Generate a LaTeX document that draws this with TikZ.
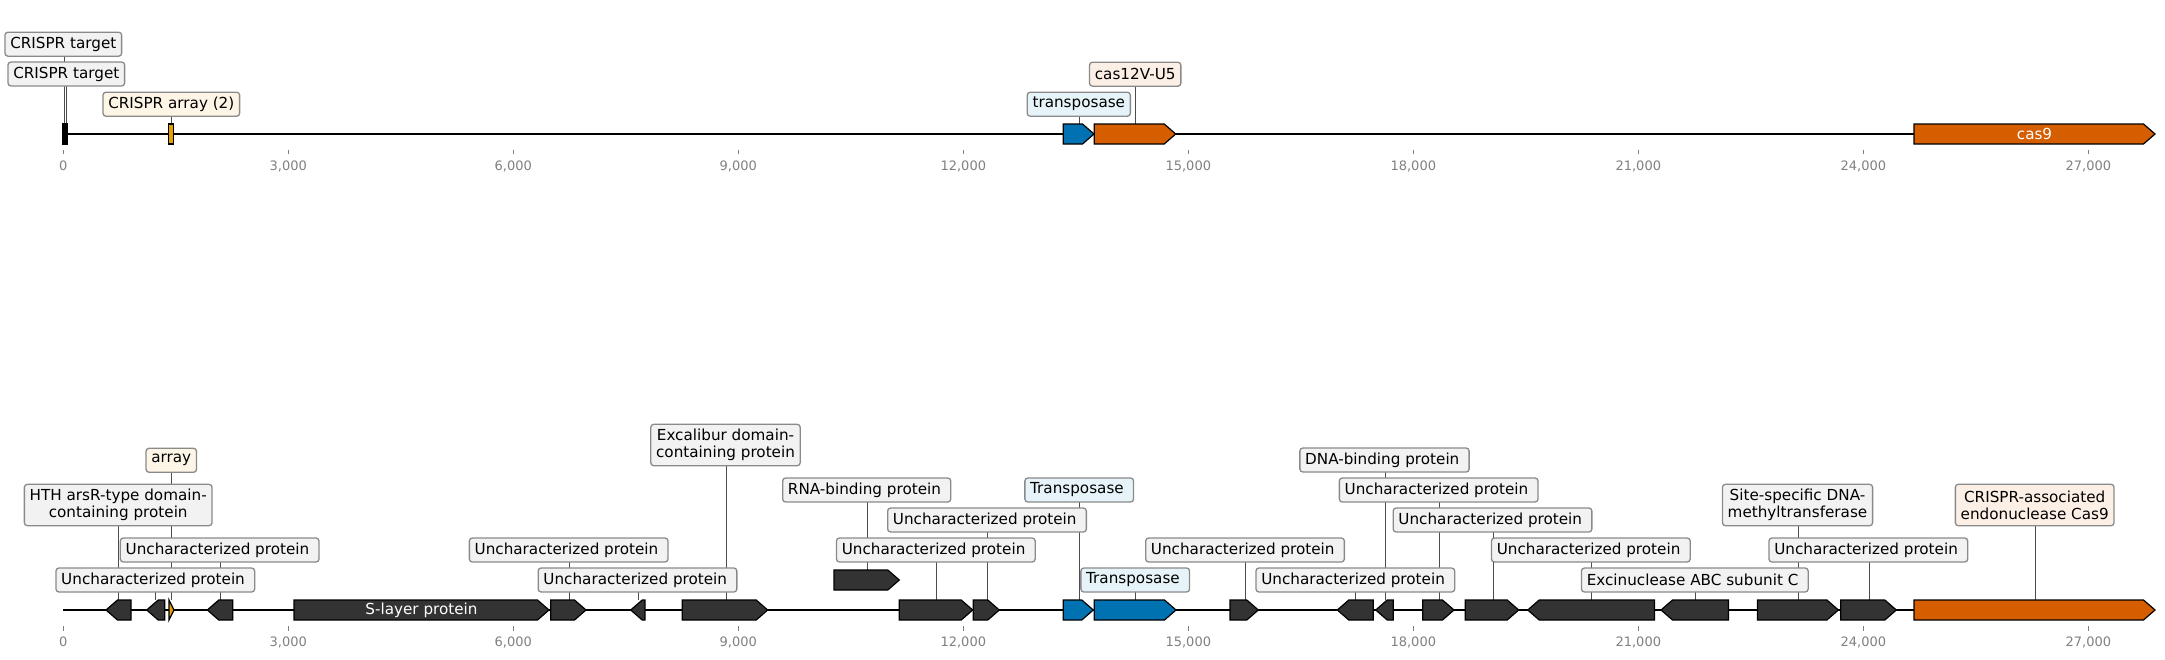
\documentclass[tikz,border=0pt]{standalone}
\usepackage{fontspec}
\setmainfont{DejaVu Sans}
\definecolor{dk}{HTML}{333333}
\definecolor{blu}{HTML}{0072B2}
\definecolor{org}{HTML}{D55E00}
\definecolor{yel}{HTML}{E69F00}
\definecolor{fgrey}{HTML}{F2F2F2}
\definecolor{fblue}{HTML}{E6F4FA}
\definecolor{fcream}{HTML}{FDF5E6}
\definecolor{fpeach}{HTML}{FCEFE6}
\definecolor{edgec}{HTML}{8A8A8A}
\definecolor{tickc}{HTML}{808080}
\pgfdeclarelayer{background}
\pgfsetlayers{background,main}
\tikzset{
 feat/.style={draw=black, line width=1.2pt, line join=miter},
 lab/.style={draw=edgec, line width=1.3pt, rounded corners=3pt, fill=fgrey, inner xsep=5.3pt, inner ysep=0pt, minimum height=24pt, align=center, font=\fontsize{15.2pt}{16.7pt}\selectfont},
 labtwo/.style={lab, minimum height=41.4pt},
 conn/.style={draw=black!70, line width=1pt},
 axisline/.style={line width=2pt},
 tickmark/.style={draw=tickc, line width=1pt},
 ticklab/.style={text=tickc, inner sep=0pt, font=\fontsize{13pt}{15pt}\selectfont},
 intext/.style={text=white, inner sep=0pt, font=\fontsize{15.2pt}{16.7pt}\selectfont},
}
\newcommand\tsp{\hspace{4.5pt}}
% right-pointing gene: start, tip, ycenter, colour
\newcommand\gr[4]{\filldraw[feat,fill=#4] (#1,#3-10) -- ({max(#1,#2-11.5)},#3-10) -- (#2,#3) -- ({max(#1,#2-11.5)},#3+10) -- (#1,#3+10) -- cycle;}
% left-pointing gene: tip, end, ycenter, colour
\newcommand\gl[4]{\filldraw[feat,fill=#4] (#1,#3) -- ({min(#2,#1+11.5)},#3-10) -- (#2,#3-10) -- (#2,#3+10) -- ({min(#2,#1+11.5)},#3+10) -- cycle;}
\begin{document}
\begin{tikzpicture}[x=1pt,y=-1pt]
\useasboundingbox (0,0) rectangle (2165,659);

% ---------- axes ----------
\begin{pgfonlayer}{background}
\draw[axisline] (63.3,134) coordinate (ta0) -- (2155,134) coordinate (ta1);
\draw[axisline] (63.3,610) coordinate (ba0) -- (2155,610) coordinate (ba1);
\end{pgfonlayer}
\foreach \k/\t in {0/0,1/{3,000},2/{6,000},3/{9,000},4/{12,000},5/{15,000},6/{18,000},7/{21,000},8/{24,000},9/{27,000}}{
  \draw[tickmark] (63.3+225*\k,149.5) -- (63.3+225*\k,154);
  \node[ticklab] (tt\k) at (63.3+225*\k,166) {\t};
  \draw[tickmark] (63.3+225*\k,626) -- (63.3+225*\k,631);
  \node[ticklab] (tb\k) at (63.3+225*\k,642) {\t};
}

% ---------- top track features ----------
\filldraw[feat,fill=black] (62.9,124) rectangle (67.1,144);
\filldraw[feat,fill=yel] (168.3,124) rectangle (173.7,144);
\gr{1063.3}{1094}{134}{blu}
\gr{1094.3}{1175.7}{134}{org}
\gr{1914}{2155}{134}{org}
\node[intext] (cas9t) at (2034.5,134) {cas9};

% ---------- top track labels ----------
\coordinate (a1) at (64.3,124);  \node[lab] (la1) at (63.3,44.2) {CRISPR target};
\coordinate (a2) at (66.7,124);  \node[lab] (la2) at (66.3,74) {CRISPR target};
\coordinate (a3) at (171.3,124); \node[lab,fill=fcream] (la3) at (171.3,104.2) {CRISPR array (2)};
\coordinate (a4) at (1079.3,124);\node[lab,fill=fblue] (la4) at (1078.8,104.2) {transposase};
\coordinate (a5) at (1135.3,124);\node[lab,fill=fpeach] (la5) at (1135.2,74.2) {cas12V-U5};

% ---------- bottom track features ----------
\gl{106}{131}{610}{dk}
\gl{146.7}{164.7}{610}{dk}
\gr{169}{174}{610}{yel}
\gl{207.3}{232.7}{610}{dk}
\gr{294}{549}{610}{dk}
\node[intext] (slayer) at (421.5,610) {S-layer protein};
\gr{550.7}{586}{610}{dk}
\gl{630.7}{645}{610}{dk}
\gr{682.3}{767.7}{610}{dk}
\gr{834}{899.3}{580}{dk}
\gr{899.3}{972.7}{610}{dk}
\gr{973.3}{999.3}{610}{dk}
\gr{1063.3}{1093.3}{610}{blu}
\gr{1094.3}{1176}{610}{blu}
\gr{1230}{1258.3}{610}{dk}
\gl{1337.3}{1373.3}{610}{dk}
\gl{1375.7}{1393.3}{610}{dk}
\gr{1422.7}{1454}{610}{dk}
\gr{1465.3}{1518.7}{610}{dk}
\gl{1527.7}{1654.4}{610}{dk}
\gl{1661}{1728.5}{610}{dk}
\gr{1757.5}{1838.4}{610}{dk}
\gr{1840.8}{1896.3}{610}{dk}
\gr{1914}{2155}{610}{org}

% ---------- bottom track labels ----------
\coordinate (b1) at (118.7,600);  \node[labtwo] (lb1) at (118.2,505) {HTH arsR-type domain-\\containing protein};
\coordinate (b2) at (155.3,600);  \node[lab] (lb2) at (155.3,580) {Uncharacterized protein\tsp};
\coordinate (b3) at (171.3,600);  \node[lab,fill=fcream] (lb3) at (171.3,460.3) {array};
\coordinate (b4) at (220.3,600);  \node[lab] (lb4) at (219.7,550) {Uncharacterized protein\tsp};
\coordinate (b6) at (569.3,600);  \node[lab] (lb6) at (568.7,550) {Uncharacterized protein\tsp};
\coordinate (b7) at (638.7,600);  \node[lab] (lb7) at (637.5,580) {Uncharacterized protein\tsp};
\coordinate (b8) at (726.3,600);  \node[labtwo] (lb8) at (725.5,445) {Excalibur domain-\\containing protein};
\coordinate (b9) at (867.3,570);  \node[lab] (lb9) at (866.7,490) {RNA-binding protein\tsp};
\coordinate (b10) at (936.7,600); \node[lab] (lb10) at (935.8,550) {Uncharacterized protein\tsp};
\coordinate (b11) at (987.3,600); \node[lab] (lb11) at (987,520) {Uncharacterized protein\tsp};
\coordinate (b12) at (1079.3,600);\node[lab,fill=fblue] (lb12) at (1079.2,490) {Transposase\tsp};
\coordinate (b13) at (1135.3,600);\node[lab,fill=fblue] (lb13) at (1135.2,580) {Transposase\tsp};
\coordinate (b14) at (1245.5,600);\node[lab] (lb14) at (1245,550) {Uncharacterized protein\tsp};
\coordinate (b15) at (1355.5,600);\node[lab] (lb15) at (1355.3,580) {Uncharacterized protein\tsp};
\coordinate (b16) at (1385.3,600);\node[lab] (lb16) at (1384.5,460) {DNA-binding protein\tsp};
\coordinate (b17) at (1439.3,600);\node[lab] (lb17) at (1438.7,490) {Uncharacterized protein\tsp};
\coordinate (b18) at (1493.3,600);\node[lab] (lb18) at (1492.5,520) {Uncharacterized protein\tsp};
\coordinate (b19) at (1591.7,600);\node[lab] (lb19) at (1590.8,550) {Uncharacterized protein\tsp};
\coordinate (b20) at (1695,600);  \node[lab] (lb20) at (1694.8,580) {Excinuclease ABC subunit C\tsp};
\coordinate (b21) at (1798.3,600);\node[labtwo] (lb21) at (1797.5,505) {Site-specific DNA-\\methyltransferase};
\coordinate (b22) at (1869.3,600);\node[lab] (lb22) at (1868.3,550) {Uncharacterized protein\tsp};
\coordinate (b23) at (2035.1,600);\node[labtwo,fill=fpeach] (lb23) at (2034.7,505) {CRISPR-associated\\endonuclease Cas9};

% ---------- connectors (behind boxes) ----------
\begin{pgfonlayer}{background}
\foreach \n in {a1,a2,a3,a4,a5,b1,b2,b3,b4,b6,b7,b8,b9,b10,b11,b12,b13,b14,b15,b16,b17,b18,b19,b20,b21,b22,b23}{
  \draw[conn] (\n) -- (\n |- l\n.center);
}
\end{pgfonlayer}
\end{tikzpicture}
\end{document}
